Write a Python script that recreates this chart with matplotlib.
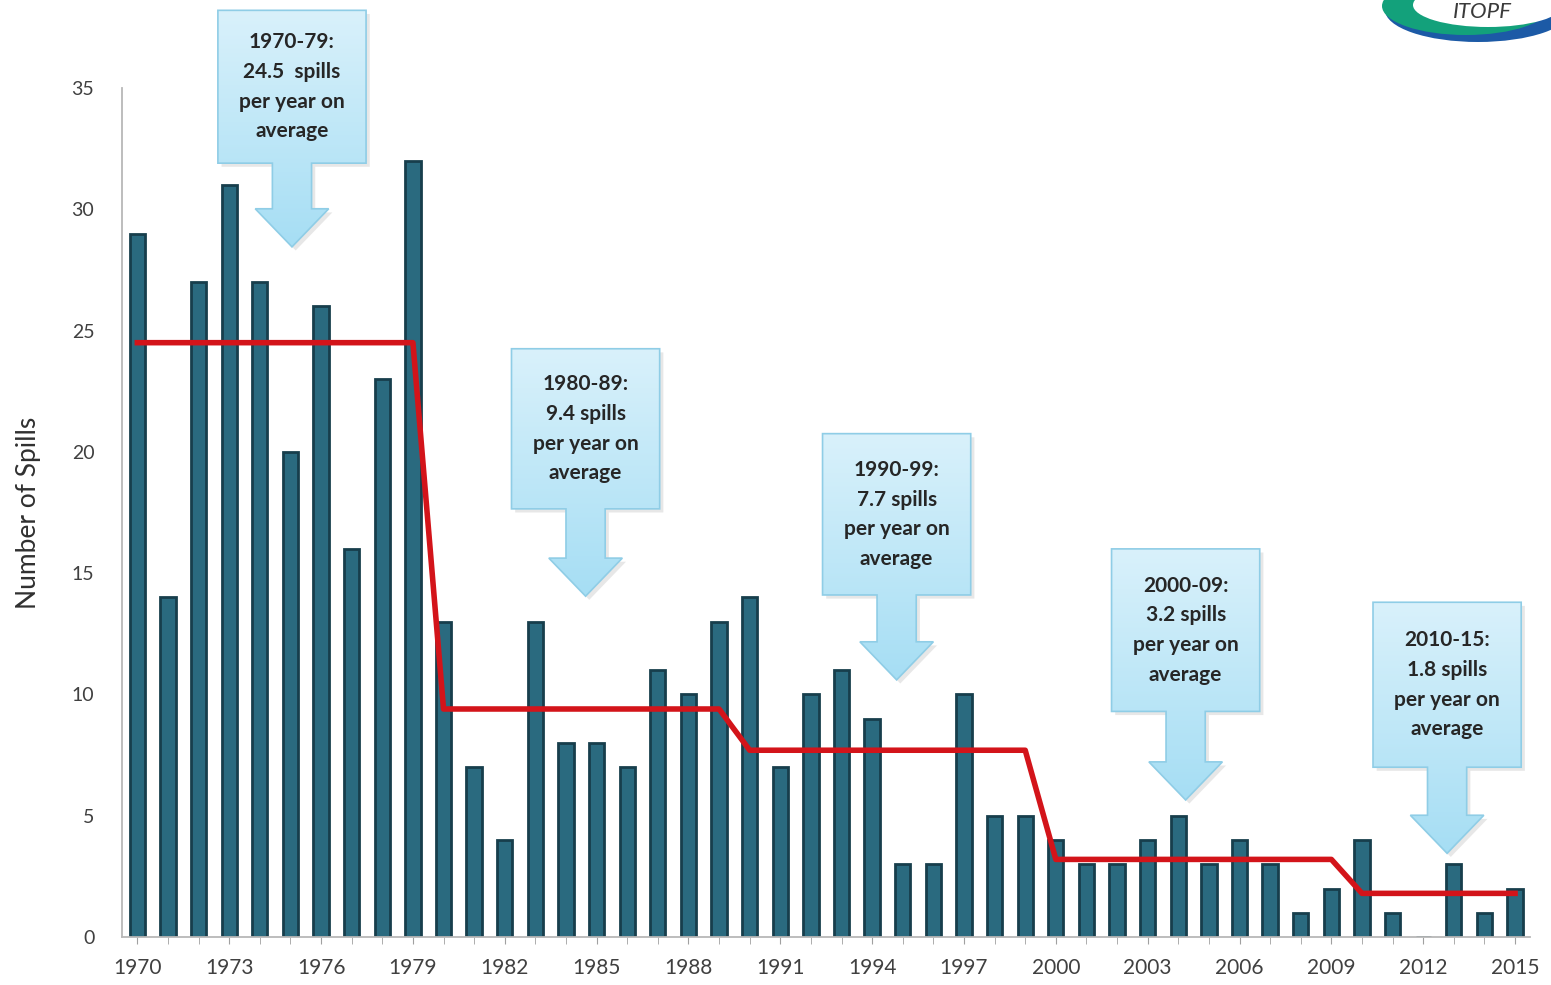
import matplotlib
matplotlib.use("Agg")
import matplotlib.pyplot as plt
import numpy as np
from matplotlib.patches import Polygon, Ellipse
from matplotlib.colors import LinearSegmentedColormap

# --- data ---
years = list(range(1970, 2016))
spills = [29, 14, 27, 31, 27, 20, 26, 16, 23, 32,
          13, 7, 4, 13, 8, 8, 7, 11, 10, 13,
          14, 7, 10, 11, 9, 3, 3, 10, 5, 5,
          4, 3, 3, 4, 5, 3, 4, 3, 1, 2,
          4, 1, 0, 3, 1, 2]

period_start = [1970, 1980, 1990, 2000, 2010]
period_end = [1979, 1989, 1999, 2009, 2015]
period_avg = [24.5, 9.4, 7.7, 3.2, 1.8]
period_text = ["1970-79:\n24.5  spills\nper year on\naverage",
               "1980-89:\n9.4 spills\nper year on\naverage",
               "1990-99:\n7.7 spills\nper year on\naverage",
               "2000-09:\n3.2 spills\nper year on\naverage",
               "2010-15:\n1.8 spills\nper year on\naverage"]

# callout placement (data coords): centre year, box top, box bottom, arrow tip
call_x = [1975.05, 1984.64, 1994.8, 2004.24, 2012.78]
call_top = [38.2, 24.25, 20.75, 16.0, 13.8]
call_bot = [31.9, 17.65, 14.1, 9.3, 7.0]
call_tip = [28.45, 14.05, 10.6, 5.65, 3.45]

avg_line = []
for yr in years:
    for s0, s1, a in zip(period_start, period_end, period_avg):
        if s0 <= yr <= s1:
            avg_line.append(a)

plt.rcParams['font.family'] = ['Lato', 'DejaVu Sans']

fig = plt.figure(figsize=(15.51, 9.85), dpi=100)
ax = fig.add_axes([0.0787, 0.0487, 0.908, 0.862])

ax.bar(years, spills, width=0.5, color='#2a6a7f', edgecolor='#173e4c',
       linewidth=2.0, zorder=2)
ax.plot(years, avg_line, color='#d3141a', linewidth=4, zorder=3,
        solid_joinstyle='round')

ax.set_xlim(1969.5, 2015.5)
ax.set_ylim(0, 35)
ax.set_yticks(range(0, 36, 5))
ax.set_xticks(range(1970, 2016, 3))
ax.set_xticks(years, minor=True)
ax.tick_params(axis='y', length=0, pad=20, labelsize=14, labelcolor='#404040')
ax.tick_params(axis='x', which='both', length=5, color='#a0a0a0',
               labelsize=15, labelcolor='#404040', pad=10)
for sp in ['top', 'right']:
    ax.spines[sp].set_visible(False)
for sp in ['left', 'bottom']:
    ax.spines[sp].set_color('#b8b8b8')
    ax.spines[sp].set_linewidth(1.3)
ax.set_ylabel("Number of Spills", fontsize=19, color='#303030', labelpad=22)

# --- callouts ---
grad = np.linspace(0, 1, 100).reshape(-1, 1)
cmap = LinearSegmentedColormap.from_list('callout', ['#d9f1fb', '#a6def4'])
bw, sw, hw, hh = 2.42, 0.64, 1.2, 1.57
for xc, top, bot, tip, txt in zip(call_x, call_top, call_bot, call_tip, period_text):
    head = tip + hh
    verts = [(xc - bw, top), (xc + bw, top), (xc + bw, bot), (xc + sw, bot),
             (xc + sw, head), (xc + hw, head), (xc, tip), (xc - hw, head),
             (xc - sw, head), (xc - sw, bot), (xc - bw, bot)]
    shadow = Polygon([(vx + 0.12, vy - 0.15) for vx, vy in verts],
                     closed=True, facecolor='#d8d8d8', edgecolor='none',
                     alpha=0.6, zorder=4, clip_on=False)
    ax.add_patch(shadow)
    poly = Polygon(verts, closed=True, facecolor='none', edgecolor='#8fcde6',
                   linewidth=1.2, zorder=6, clip_on=False)
    ax.add_patch(poly)
    im = ax.imshow(grad, cmap=cmap, aspect='auto', origin='upper',
                   extent=(xc - bw, xc + bw, tip, top), zorder=5,
                   interpolation='bilinear')
    im.set_clip_path(poly)
    im.set_clip_box(fig.bbox)
    ax.text(xc, (top + bot) / 2, txt, ha='center', va='center', fontsize=15,
            fontweight='bold', color='#262626', linespacing=1.6, zorder=7,
            clip_on=False)

ax.set_xlim(1969.5, 2015.5)
ax.set_ylim(0, 35)

# --- ITOPF logo (partly cut at top right), laid out in pixel units ---
lax = fig.add_axes([1380 / 1551, 1 - 50 / 985, 180 / 1551, 60 / 985])
lax.set_xlim(1380, 1560)
lax.set_ylim(50, -10)
lax.axis('off')
lax.add_patch(Ellipse((1478, 10), 186, 64, facecolor='#1c5aa6', edgecolor='none'))
lax.add_patch(Ellipse((1466, 6), 168, 58, facecolor='#13a17b', edgecolor='none'))
lax.add_patch(Ellipse((1488, 5), 150, 44, facecolor='white', edgecolor='none'))
lax.text(1482, 12, "ITOPF", ha='center', va='center', fontsize=16,
         style='italic', color='#3a3a3a')

fig.savefig("out.png", dpi=100)
